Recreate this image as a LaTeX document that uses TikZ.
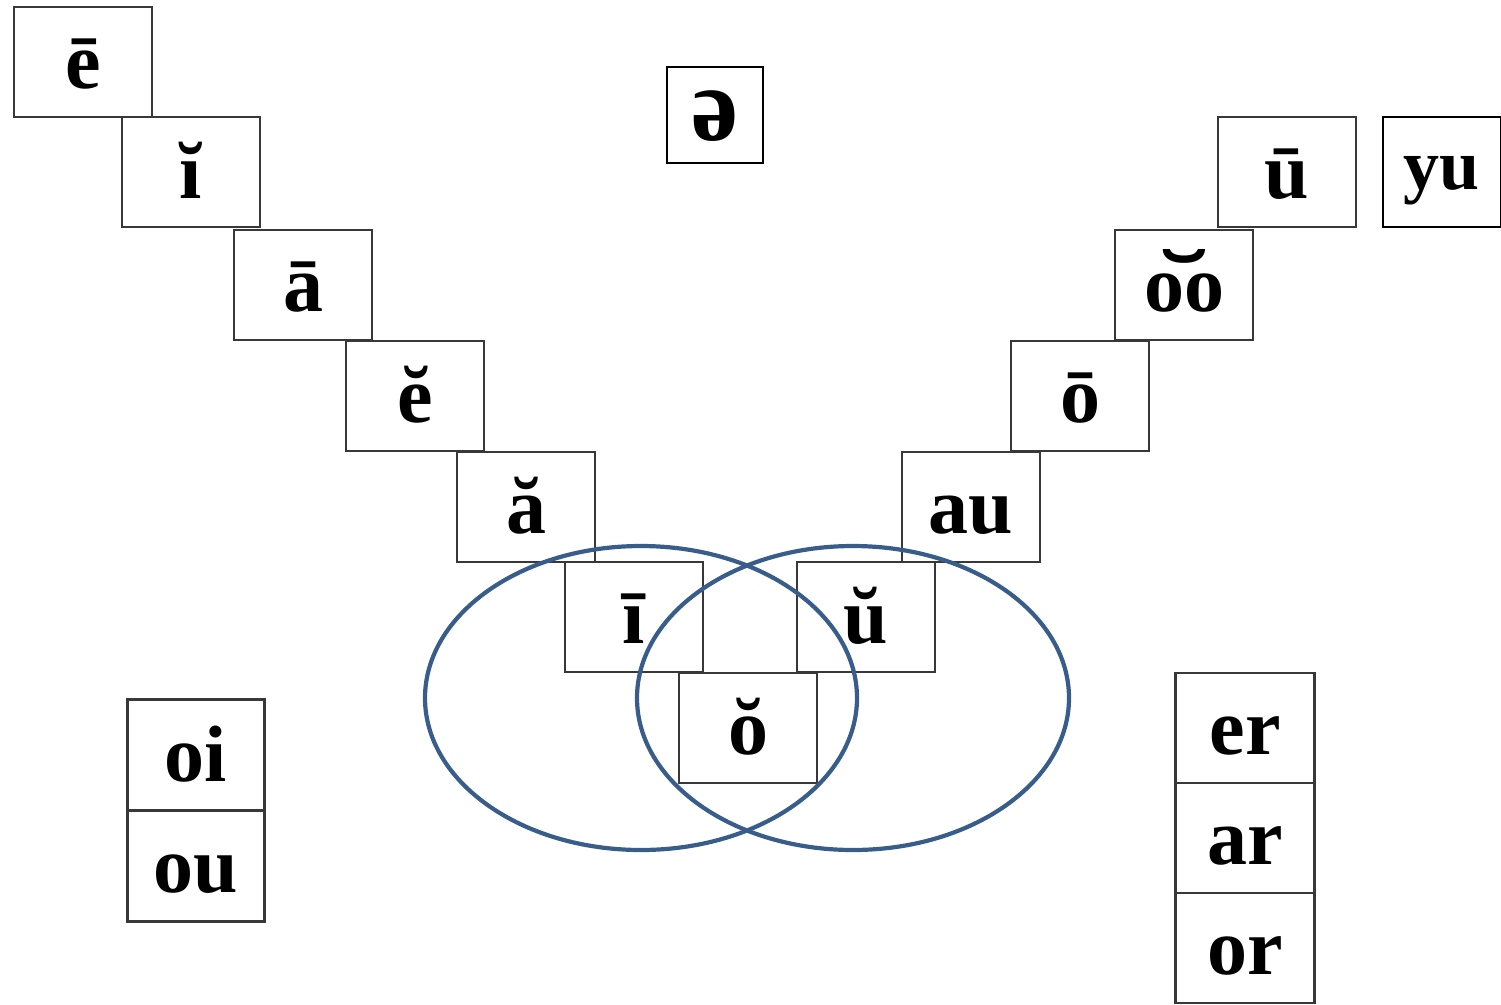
\documentclass[tikz,border=0pt]{standalone}
\usepackage{fontspec}
\usepackage{graphicx}
\setmainfont{Liberation Serif}
\begin{document}
\begin{tikzpicture}[x=1pt,y=-1pt,
  letterbox/.style={draw=black!78, line width=2.4pt, fill=white, inner sep=0pt,
    minimum width=138pt, minimum height=110pt, text height=60pt, text depth=8pt,
    font=\fontsize{80}{82}\selectfont\bfseries},
  ring/.style={draw={rgb,255:red,56;green,93;blue,138}, line width=4.2pt}]
\useasboundingbox (0,0) rectangle (1501,1004);

% descending row of vowels on the left
\node[letterbox] (e1) at (83,62)    {ē};
\node[letterbox] (i1) at (191,172)  {ĭ};
\node[letterbox] (a1) at (303,285)  {ā};
\node[letterbox] (e2) at (415,396)  {ĕ};
\node[letterbox] (a2) at (526,507)  {ă};
\node[letterbox] (i2) at (634,617)  {ī};
% bottom of the valley
\node[letterbox] (o1) at (748,728)  {ŏ};
% rising row of vowels on the right
\node[letterbox] (u1) at (866,617)  {ŭ};
\node[letterbox] (au) at (971,507)  {au};
\node[letterbox] (o2) at (1080,396) {ō};
\node[letterbox] (oo) at (1184,285) {\ooalign{oo\cr\hidewidth\scalebox{1.8}[1.1]{˘}\hidewidth\cr}};
\node[letterbox] (u2) at (1287,172) {ū};

% separate sounds
\node[draw=black, line width=2pt, inner sep=0pt, minimum width=118pt, minimum height=110pt,
  text height=56pt, text depth=22pt, font=\fontsize{72}{74}\selectfont\bfseries]
  (yu) at (1442,172) {yu};
\node[draw=black, line width=2pt, inner sep=0pt, minimum size=96pt,
  text height=50pt, text depth=0pt, font=\fontsize{106}{108}\selectfont\bfseries]
  (schwa) at (715,115) {ə};

% diphthongs
\node[letterbox, minimum width=137pt, minimum height=111pt] (oi) at (196,755) {oi};
\node[letterbox, minimum width=137pt, minimum height=111pt] (ou) at (196,866) {ou};

% r-controlled vowels
\node[letterbox, minimum width=139pt] (er) at (1245,728) {er};
\node[letterbox, minimum width=139pt] (ar) at (1245,838) {ar};
\node[letterbox, minimum width=139pt] (or) at (1245,948) {or};

% overlapping rings around the bottom vowels
\draw[ring] (641,698) ellipse [x radius=216, y radius=152];
\draw[ring] (853,698) ellipse [x radius=216, y radius=152];
\end{tikzpicture}
\end{document}
